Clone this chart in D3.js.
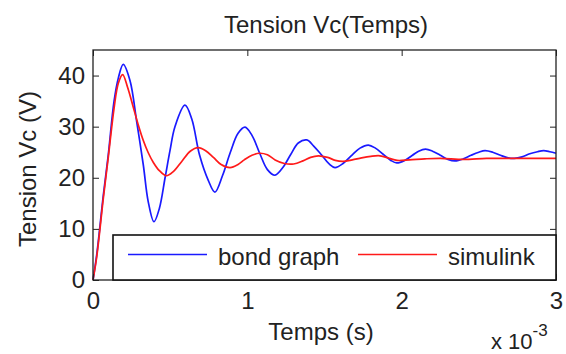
<!DOCTYPE html>
<html>
<head>
<meta charset="utf-8">
<script src="https://cdn.jsdelivr.net/npm/d3@7"></script>
<style>
  body { margin: 0; background: #fff; }
  svg text { font-family: "Liberation Sans", Arial, sans-serif; fill: #222; }
</style>
</head>
<body>
<svg id="chart" width="566" height="354"></svg>
<script>
// time in ms (axis shows x 10^-3 s), tension in V
var bondT = [0, 0.024, 0.067, 0.099, 0.136, 0.164, 0.196, 0.24, 0.283, 0.326, 0.358, 0.395,
  0.43, 0.467, 0.5, 0.531, 0.596, 0.64, 0.69, 0.747, 0.79, 0.84, 0.89, 0.94, 0.985,
  1.03, 1.08, 1.13, 1.179, 1.23, 1.28, 1.33, 1.385, 1.43, 1.48, 1.53, 1.568,
  1.62, 1.68, 1.73, 1.784, 1.83, 1.88, 1.93, 1.968, 2.02, 2.07, 2.11, 2.155,
  2.2, 2.25, 2.3, 2.346, 2.4, 2.45, 2.5, 2.54, 2.59, 2.64, 2.69, 2.73,
  2.78, 2.83, 2.88, 2.92, 2.96, 3.0];
var bondV = [0, 4.9, 16.6, 24.5, 34.9, 39.5, 42.2, 39, 31, 22.5, 15.3, 11.4,
  14, 20, 25.5, 30, 34.2, 31.5, 24.5, 19.5, 17.2, 20.5, 25, 28.7, 29.9,
  28.3, 24.8, 21.6, 20.5, 22, 24.5, 26.8, 27.4, 26.2, 24.5, 22.7, 22.0,
  22.8, 24.5, 25.8, 26.4, 25.8, 24.6, 23.4, 22.9, 23.4, 24.4, 25.2, 25.6,
  25.2, 24.4, 23.6, 23.3, 23.7, 24.4, 25.0, 25.3, 25.0, 24.4, 23.9, 23.8,
  24.1, 24.7, 25.1, 25.3, 25.1, 24.8];

var simT = [0, 0.024, 0.067, 0.099, 0.136, 0.164, 0.192, 0.225, 0.261, 0.294, 0.326, 0.358, 0.391,
  0.43, 0.475, 0.52, 0.575, 0.63, 0.682, 0.73, 0.78, 0.83, 0.888, 0.94, 0.98,
  1.03, 1.08, 1.13, 1.18, 1.24, 1.3, 1.36, 1.41, 1.46, 1.52, 1.57, 1.62,
  1.68, 1.74, 1.8, 1.86, 1.92, 1.97, 2.05, 2.15, 2.25, 2.4, 2.55, 2.7, 2.85, 3.0];
var simV = [0, 4.5, 16, 24, 33.5, 38.5, 40.2, 37.6, 33.8, 30.3, 27.3, 24.9, 23.0,
  21.4, 20.4, 21.2, 23.2, 25.2, 25.9, 25.3, 24, 22.6, 22.0, 22.6, 23.5,
  24.4, 24.8, 24.5, 23.5, 22.8, 22.7, 23.3, 24, 24.3, 24, 23.4, 23.2,
  23.5, 23.9, 24.2, 24.3, 23.8, 23.4, 23.5, 23.7, 23.8, 23.6, 23.8, 23.8, 23.8, 23.8];

var xTicks = [0, 1, 2, 3];
var yTicks = [0, 10, 20, 30, 40];
var seriesNames = ["bond graph", "simulink"];
var seriesColors = ["#1a1aff", "#ff1a1a"];

(function() {
  var svg = d3.select("#chart");
  var left = 93, right = 556, top = 50, bottom = 280;

  var x = d3.scaleLinear().domain([0, 3]).range([left, right]);
  var y = d3.scaleLinear().domain([0, 45]).range([bottom, top]);

  svg.append("rect")
    .attr("x", left).attr("y", top)
    .attr("width", right - left).attr("height", bottom - top)
    .attr("fill", "#fff");

  var line = d3.line()
    .x(function(d) { return x(d[0]); })
    .y(function(d) { return y(d[1]); })
    .curve(d3.curveCatmullRom);

  var series = [d3.zip(bondT, bondV), d3.zip(simT, simV)];

  svg.append("g").selectAll("path")
    .data(series)
    .enter().append("path")
    .attr("d", line)
    .attr("fill", "none")
    .attr("stroke", function(d, i) { return seriesColors[i]; })
    .attr("stroke-width", 1.7);

  // axes, ticks inward like matlab
  var fmt = d3.format("d");
  var gx = svg.append("g").attr("transform", "translate(0," + bottom + ")")
    .call(d3.axisBottom(x).tickValues(xTicks).tickFormat(fmt).tickSize(-6).tickPadding(12));
  var gxTop = svg.append("g").attr("transform", "translate(0," + top + ")")
    .call(d3.axisTop(x).tickValues(xTicks).tickFormat("").tickSize(-6));
  var gy = svg.append("g").attr("transform", "translate(" + left + ",0)")
    .call(d3.axisLeft(y).tickValues(yTicks).tickFormat(fmt).tickSize(-6).tickPadding(8));
  var gyR = svg.append("g").attr("transform", "translate(" + right + ",0)")
    .call(d3.axisRight(y).tickValues(yTicks).tickFormat("").tickSize(-6));

  [gx, gxTop, gy, gyR].forEach(function(g) {
    g.select(".domain").remove();
    g.selectAll("line").attr("stroke", "#222");
    g.selectAll("text").style("font-size", "24px").attr("fill", "#222");
  });

  svg.append("rect")
    .attr("x", left).attr("y", top)
    .attr("width", right - left).attr("height", bottom - top)
    .attr("fill", "none").attr("stroke", "#222").attr("stroke-width", 1.3);

  // legend
  var lg = svg.append("g");
  lg.append("rect")
    .attr("x", 113).attr("y", 235)
    .attr("width", right - 113).attr("height", bottom - 235)
    .attr("fill", "#fff").attr("stroke", "#111").attr("stroke-width", 1.6);
  var legX = [128, 358];
  seriesNames.forEach(function(name, i) {
    lg.append("line")
      .attr("x1", legX[i]).attr("x2", legX[i] + 79)
      .attr("y1", 254.5).attr("y2", 254.5)
      .attr("stroke", seriesColors[i]).attr("stroke-width", 1.7);
    lg.append("text")
      .attr("x", legX[i] + 90).attr("y", 265)
      .style("font-size", "24px")
      .text(name);
  });

  // labels
  svg.append("text")
    .attr("x", 326).attr("y", 33)
    .attr("text-anchor", "middle")
    .style("font-size", "24px")
    .text("Tension Vc(Temps)");

  svg.append("text")
    .attr("x", 321).attr("y", 340)
    .attr("text-anchor", "middle")
    .style("font-size", "24px")
    .text("Temps (s)");

  svg.append("text")
    .attr("transform", "translate(36,169) rotate(-90)")
    .attr("text-anchor", "middle")
    .style("font-size", "24px")
    .text("Tension Vc (V)");

  var ex = svg.append("text")
    .attr("x", 491).attr("y", 349)
    .style("font-size", "22px");
  ex.append("tspan").text("x 10");
  ex.append("tspan").attr("dy", -13).style("font-size", "17px").text("-3");
})();
</script>
</body>
</html>
